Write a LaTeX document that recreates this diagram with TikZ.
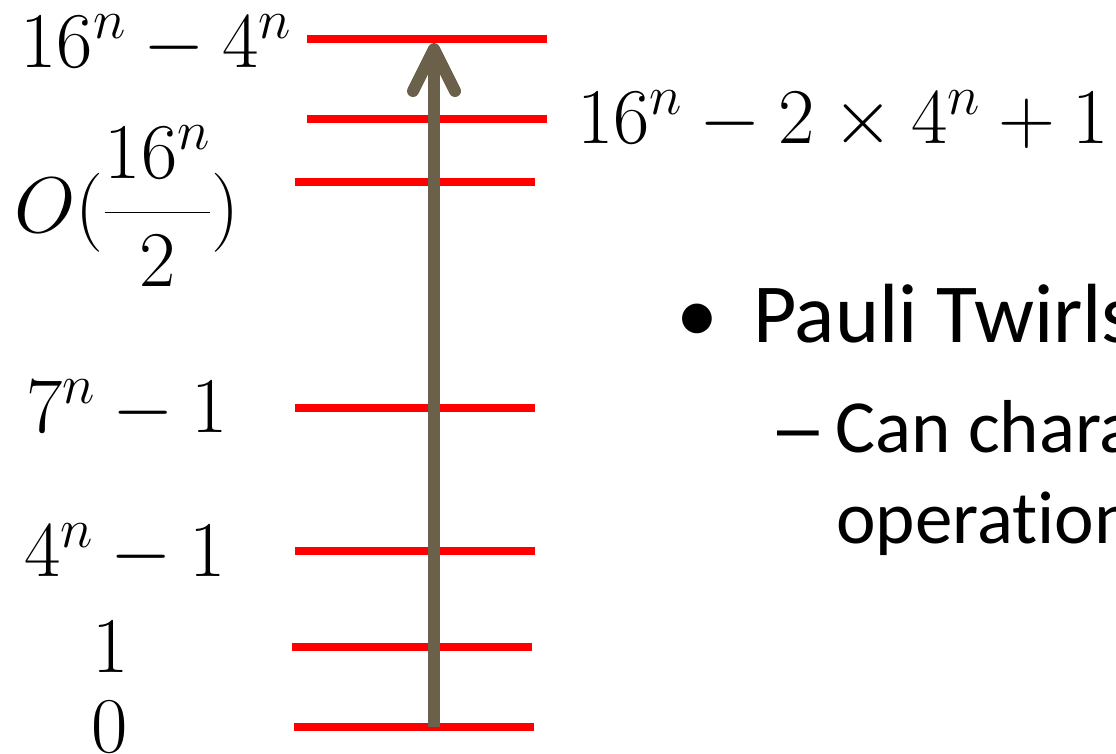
\RequirePackage{fix-cm}
\documentclass[tikz,border=0pt]{standalone}
\usepackage{fontspec}
\newfontfamily\bodyfont[Ligatures=NoCommon]{Carlito}
\newfontfamily\dashfont{Liberation Sans}
\usetikzlibrary{arrows.meta}
\definecolor{levelred}{RGB}{255,0,0}
\definecolor{axisbrown}{RGB}{107,96,74}

\begin{document}
\begin{tikzpicture}[x=1pt,y=-1pt,
  level/.style={draw=levelred,line width=8pt},
  axis/.style={draw=axisbrown,line width=12pt,-{Straight Barb[length=42pt,width=42pt,round]}},
  dimlab/.style={anchor=base,inner sep=0pt,font=\fontsize{79}{94}\selectfont},
  bullet/.style={anchor=base west,inner sep=0pt,font=\bodyfont\fontsize{84}{100}\selectfont},
  subbullet/.style={anchor=base west,inner sep=0pt,font=\bodyfont\fontsize{75}{90}\selectfont}]
\useasboundingbox (0,0) rectangle (1116,753);
\clip (0,0) rectangle (1116,753);
% levels
\foreach \nm/\y/\xa in {top/39/307,second/119/307,half/182/295,seven/408/295,four/551/295,one/647/292,zero/727/294}{
  \draw[level] (\xa,\y) -- +(240,0);
  \coordinate (\nm) at (434,\y);
}
\draw[axis] (zero) -- ([yshift=-4pt]top);
% dimensions
\node[dimlab] (lab-top) at (156,67) {$16^n-4^n$};
\node[dimlab] (lab-second) at (843,143) {$16^n-2\times4^n+1$};
\node[dimlab] (lab-half) at (127,232) {$O(\displaystyle\frac{16^n}{2})$};
\node[dimlab] (lab-seven) at (127,432) {$7^n-1$};
\node[dimlab] (lab-four) at (125,576) {$4^n-1$};
\node[dimlab] (lab-one) at (111,672) {$1$};
\node[dimlab] (lab-zero) at (110,752) {$0$};
% text
\node[bullet,anchor=base] (dot) at (697,342) {•};
\node[bullet] (pauli) at (753,342) {Pauli Twirls};
\node[subbullet] (can) at (777,452) {{\dashfont –} Can chara};
\node[subbullet] (oper) at (836,543) {operation};
\end{tikzpicture}
\end{document}
